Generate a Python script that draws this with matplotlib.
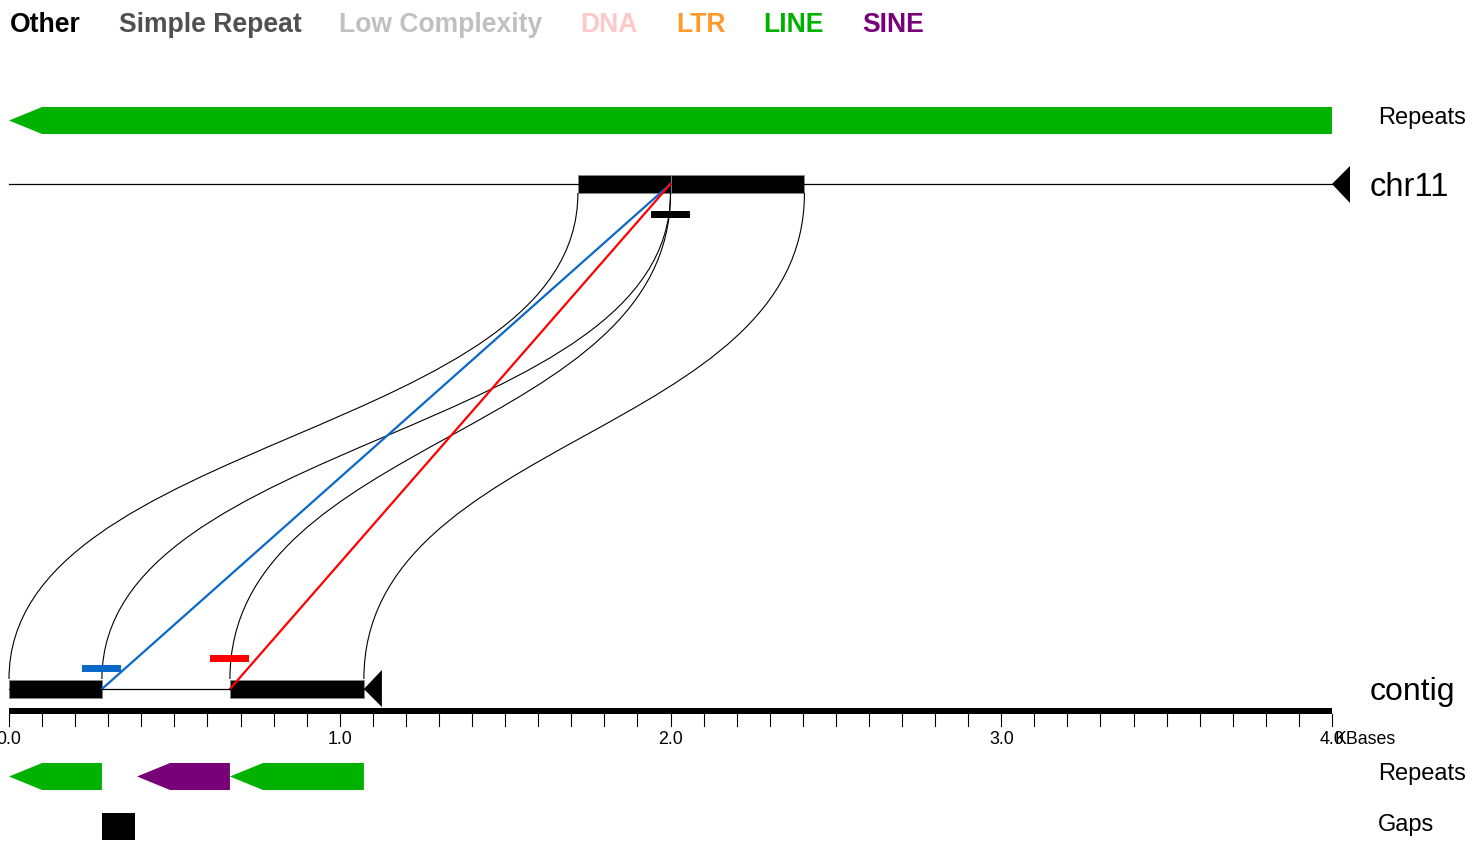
import matplotlib
matplotlib.use('Agg')
import matplotlib.pyplot as plt
from matplotlib.patches import Polygon, Rectangle, PathPatch
from matplotlib.path import Path

plt.rcParams['font.family'] = ['Liberation Sans', 'DejaVu Sans']

# ---------------- data (kilobases) ----------------
legend_labels = ["Other", "Simple Repeat", "Low Complexity", "DNA", "LTR", "LINE", "SINE"]
legend_colors = ["#000000", "#505050", "#c0c0c0", "#ffc8c8", "#ff9a2a", "#00b200", "#780078"]
class_color = dict(zip(legend_labels, legend_colors))

chr_length = 4.0
chr_repeat_start = [0.0]
chr_repeat_end = [4.0]
chr_repeat_class = ["LINE"]

# alignment blocks: chr11 interval <-> contig interval
aln_chr_start = [1.72, 2.0]
aln_chr_end = [2.0, 2.405]
aln_ctg_start = [0.0, 0.668]
aln_ctg_end = [0.281, 1.073]

contig_length = 1.073
ctg_repeat_start = [0.0, 0.387, 0.668]
ctg_repeat_end = [0.281, 0.668, 1.073]
ctg_repeat_class = ["LINE", "SINE", "LINE"]

gap_start = [0.281]
gap_end = [0.381]

# breakpoint links: chr11 position -> contig position
bp_chr = [2.0, 2.0]
bp_ctg = [0.281, 0.668]
bp_color = ["#0a68c8", "#ff0000"]

axis_max = 4.0
tick_step = 0.1
label_step = 1.0

# ---------------- layout ----------------
W, H = 1473, 846
PX0 = 9.0
SCALE = 330.75  # pixels per kb

fig = plt.figure(figsize=(W / 100, H / 100), dpi=100)
ax = fig.add_axes([0, 0, 1, 1])
ax.set_xlim(-PX0 / SCALE, (W - PX0) / SCALE)
ax.set_ylim(H, 0)
ax.axis('off')


def kb(p):
    return p / SCALE


HEAD = 0.1


def arrow(x0, x1, yt, yb, color):
    h = min(HEAD, x1 - x0)
    ym = (yt + yb) / 2
    pts = [(x0, ym), (x0 + h, yt), (x1, yt), (x1, yb), (x0 + h, yb)]
    ax.add_patch(Polygon(pts, closed=True, facecolor=color, edgecolor='none'))


# legend
renderer = fig.canvas.get_renderer()
xpix = 10
for lab, col in zip(legend_labels, legend_colors):
    xd = ax.transData.inverted().transform((xpix, 0))[0]
    t = ax.text(xd, 25, lab, fontsize=19.1, fontweight='bold', color=col,
                ha='left', va='center')
    ext = t.get_window_extent(renderer)
    xpix = ext.x1 + 38

# top repeats
for s, e, c in zip(chr_repeat_start, chr_repeat_end, chr_repeat_class):
    arrow(s, e, 107, 134, class_color[c])

# chr11 line
ax.plot([0, chr_length], [184, 184], color='black', lw=0.9)
ax.add_patch(Polygon([(chr_length, 184), (chr_length + kb(18), 166), (chr_length + kb(18), 203)],
                     closed=True, facecolor='black', edgecolor='none'))
for s, e in zip(aln_chr_start, aln_chr_end):
    ax.add_patch(Rectangle((s, 175), e - s, 18, facecolor='black', edgecolor='#888888', lw=0.6))

# chr11 breakpoint marker
for c in sorted(set(bp_chr)):
    ax.add_patch(Rectangle((c - kb(19.5), 211), kb(39), 7, facecolor='black', edgecolor='none'))

# curves
ytop, ybot = 193, 679
ymid = (ytop + ybot) / 2
for cs, ce, gs, ge in zip(aln_chr_start, aln_chr_end, aln_ctg_start, aln_ctg_end):
    for a, b in ((cs, gs), (ce, ge)):
        path = Path([(a, ytop), (a, ymid), (b, ymid), (b, ybot)],
                    [Path.MOVETO, Path.CURVE4, Path.CURVE4, Path.CURVE4])
        ax.add_patch(PathPatch(path, facecolor='none', edgecolor='black', lw=0.8))

# breakpoint lines and contig markers
marker_y = [665, 655]
for c, g, col, my in zip(bp_chr, bp_ctg, bp_color, marker_y):
    ax.plot([c, g], [184, 689], color=col, lw=1.6)
    ax.add_patch(Rectangle((g - kb(19.5), my), kb(39), 7, facecolor=col, edgecolor='none'))

# contig
ax.plot([0, contig_length], [689, 689], color='black', lw=0.9)
for s, e in zip(aln_ctg_start, aln_ctg_end):
    ax.add_patch(Rectangle((s, 680), e - s, 18, facecolor='black', edgecolor='#888888', lw=0.6))
ax.add_patch(Polygon([(contig_length, 689), (contig_length + kb(18), 670), (contig_length + kb(18), 707)],
                     closed=True, facecolor='black', edgecolor='none'))

# axis
ax.add_patch(Rectangle((0, 708), axis_max, 6, facecolor='black', edgecolor='none'))
n = int(round(axis_max / tick_step))
for i in range(n + 1):
    x = i * tick_step
    ax.plot([x, x], [714, 726], color='black', lw=0.8)
nl = int(round(axis_max / label_step))
for i in range(nl + 1):
    x = i * label_step
    ax.text(x, 740, f"{x:.1f}", fontsize=12.8, ha='center', va='center')
ax.text(axis_max + kb(3), 740, "KBases", fontsize=12.8, ha='left', va='center')

# contig repeats
for s, e, c in zip(ctg_repeat_start, ctg_repeat_end, ctg_repeat_class):
    arrow(s, e, 763, 790, class_color[c])

# gaps
for s, e in zip(gap_start, gap_end):
    ax.add_patch(Rectangle((s, 813), e - s, 27, facecolor='black', edgecolor='none'))

# track labels
def lab(px, py, s, size):
    ax.text(ax.transData.inverted().transform((px, 0))[0], py, s, fontsize=size,
            ha='left', va='center')

lab(1378, 118, "Repeats", 17)
lab(1370, 187, "chr11", 23.5)
lab(1370, 692, "contig", 23)
lab(1378, 774, "Repeats", 17)
lab(1378, 825, "Gaps", 17)

fig.savefig("out.png", dpi=100)
